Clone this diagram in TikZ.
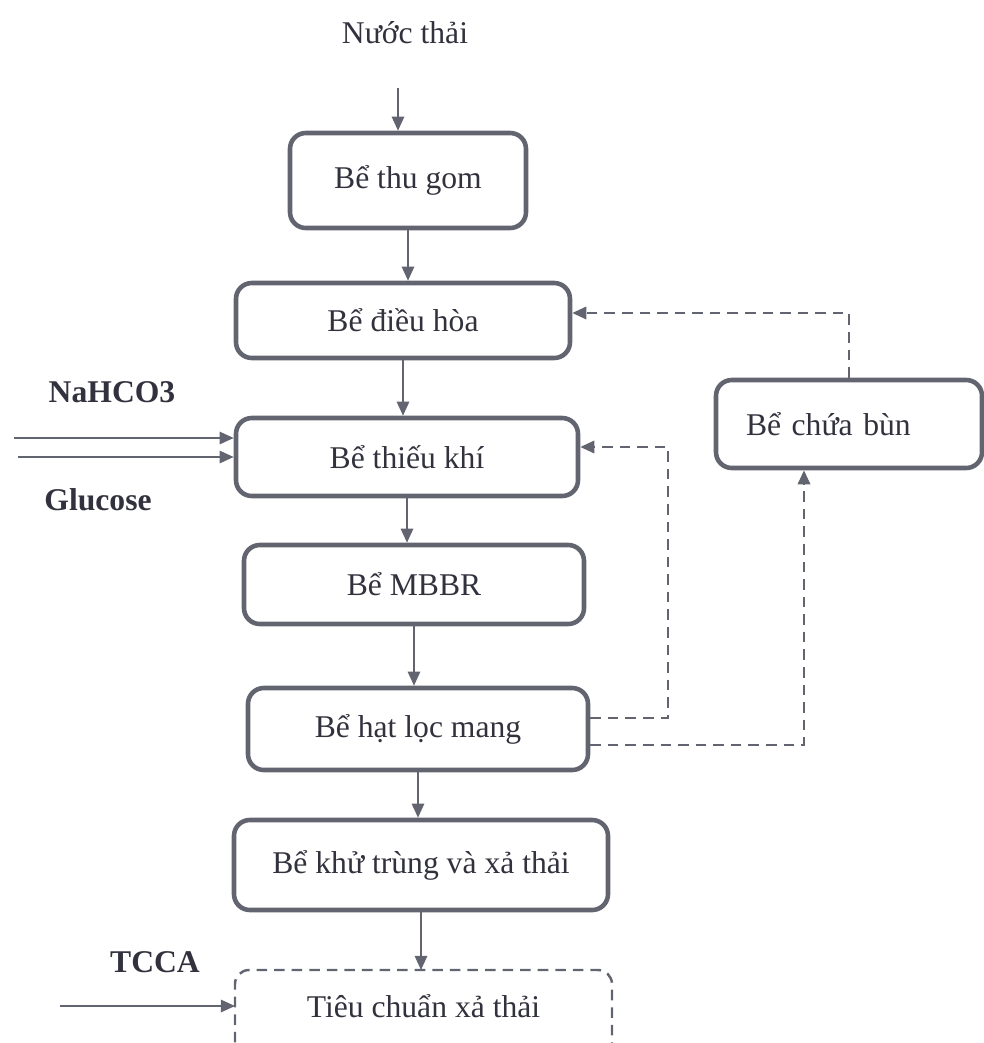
\documentclass[tikz,border=0pt]{standalone}
\usepackage{fontspec}
\setmainfont{Liberation Serif}
\usetikzlibrary{arrows.meta}
\definecolor{linegray}{RGB}{98,100,112}
\definecolor{inkgray}{RGB}{50,50,62}
\begin{document}
\begin{tikzpicture}[
  tank/.style={draw=linegray, line width=2.6pt, rounded corners=9pt, text=inkgray, font=\fontsize{18}{21}\selectfont},
  plain/.style={text=inkgray, font=\fontsize{18}{21}\selectfont},
  chem/.style={text=inkgray, font=\fontsize{18}{21}\selectfont\bfseries},
  arr/.style={draw=linegray, line width=1.1pt, -{Triangle[length=8pt,width=7pt]}},
  dasharr/.style={draw=linegray, line width=1.4pt, dash pattern=on 6pt off 4pt, -{Triangle[length=8pt,width=7pt]}}]
\clip (0,0) rectangle (19.68,-20.86);
\node[plain] (nuocthai) at (8.1,-0.66) {Nước thải};
\node[tank, minimum width=4.72cm, minimum height=1.9cm] (thugom) at (8.16,-3.61) {Bể thu gom};
\node[tank, minimum width=6.68cm, minimum height=1.5cm] (dieuhoa) at (8.06,-6.41) {Bể điều hòa};
\node[tank, minimum width=6.84cm, minimum height=1.56cm] (thieukhi) at (8.14,-9.14) {Bể thiếu khí};
\node[tank, minimum width=6.8cm, minimum height=1.58cm] (mbbr) at (8.28,-11.69) {Bể MBBR};
\node[tank, minimum width=6.8cm, minimum height=1.64cm] (hatloc) at (8.36,-14.58) {Bể hạt lọc mang};
\node[tank, minimum width=7.48cm, minimum height=1.8cm] (khutrung) at (8.42,-17.3) {Bể khử trùng và xả thải};
\node[tank, text width=4.12cm, inner xsep=0.6cm, align=left, minimum height=1.76cm] (chuabun) at (16.98,-8.48) {Bể chứa bùn};
\node[plain] (tieuchuan) at (8.47,-20.12) {Tiêu chuẩn xả thải};
\draw[linegray, line width=1.4pt, dash pattern=on 6pt off 4pt, rounded corners=8pt] (4.7,-21.2) |- (12.24,-19.4) -- (12.24,-21.2);
% chemicals
\node[chem] (nahco) at (2.24,-7.84) {NaHCO3};
\node[chem] (glucose) at (1.96,-10.0) {Glucose};
\node[chem] (tcca) at (3.1,-19.24) {TCCA};
\coordinate (nain) at (0.28,-8.76);
\coordinate (glin) at (0.36,-9.14);
\coordinate (tcin) at (1.2,-20.12);
\coordinate (tctop) at (8.42,-19.4);
\coordinate (src) at (7.96,-1.76);
\coordinate (r1) at (13.36,-8.94);
% main line
\draw[arr] (src) -- (src |- thugom.north);
\foreach \a/\b in {thugom/dieuhoa,dieuhoa/thieukhi,thieukhi/mbbr,mbbr/hatloc,hatloc/khutrung}
  \draw[arr] (\a.south) -- (\a.south |- \b.north);
\draw[arr] (khutrung.south) -- (tctop);
\draw[arr] (nain) -- (thieukhi.west |- nain);
\draw[arr] (glin) -- (thieukhi.west |- glin);
\draw[arr] (tcin) -- (4.7,-20.12);
% return lines
\draw[dasharr] ([yshift=0.22cm]hatloc.east) -| (r1) -- (thieukhi.east |- r1);
\draw[dasharr] ([yshift=-0.32cm]hatloc.east) -| ([xshift=-0.9cm]chuabun.south);
\draw[dasharr] (chuabun.north) |- ([yshift=0.15cm]dieuhoa.east);
\end{tikzpicture}
\end{document}
